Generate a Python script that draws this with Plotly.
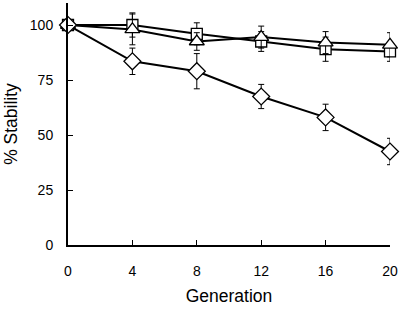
import plotly.graph_objects as go

generation = [0, 4, 8, 12, 16, 20]

square_vals = [100, 100, 96, 92.5, 89, 88]
square_err = [0, 5.5, 5, 4.5, 5.5, 4.5]

triangle_vals = [100, 98, 92.5, 94.5, 92, 91]
triangle_err = [0, 7, 4, 5, 5, 5.5]

diamond_vals = [100, 83.5, 79, 67.5, 58, 42.5]
diamond_err = [0, 6, 8, 5.5, 6, 6]

x_ticks = [0, 4, 8, 12, 16, 20]
y_ticks = [0, 25, 50, 75, 100]

fig = go.Figure()

def add(vals, err, symbol, size):
    fig.add_trace(go.Scatter(
        x=generation, y=vals, mode="lines+markers",
        line=dict(color="black", width=2),
        marker=dict(symbol=symbol, size=size, color="white",
                    line=dict(color="black", width=1.3)),
        error_y=dict(type="data", array=err, visible=True,
                     color="black", thickness=1, width=3),
        cliponaxis=False, showlegend=False,
    ))

add(square_vals, square_err, "square", 11)
add(triangle_vals, triangle_err, "triangle-up", 13)
add(diamond_vals, diamond_err, "diamond", 13)

axis_font = dict(family="Liberation Sans, Arial, sans-serif", size=12, color="black")

fig.update_layout(
    width=400, height=309,
    margin=dict(l=68, r=10, t=3, b=64),
    paper_bgcolor="white", plot_bgcolor="white",
    font=axis_font,
    xaxis=dict(range=[0, 20], tickvals=x_ticks, ticks="inside", ticklen=5,
               tickcolor="black", showline=True, linecolor="black", linewidth=2,
               showgrid=False, zeroline=False, tickfont=dict(size=14),
               ticklabelstandoff=12, automargin=False,
               title=dict(text="Generation", font=dict(size=17.5), standoff=12)),
    yaxis=dict(range=[0, 110], tickvals=y_ticks, ticks="inside", ticklen=5,
               tickcolor="black", showline=True, linecolor="black", linewidth=2,
               showgrid=False, zeroline=False, tickfont=dict(size=14),
               ticklabelstandoff=10, automargin=False,
               title=dict(text="% Stability", font=dict(size=17.5), standoff=8)),
)

fig.write_html("out.html", config={"displayModeBar": False},
               post_script="document.body.style.margin='0';")
